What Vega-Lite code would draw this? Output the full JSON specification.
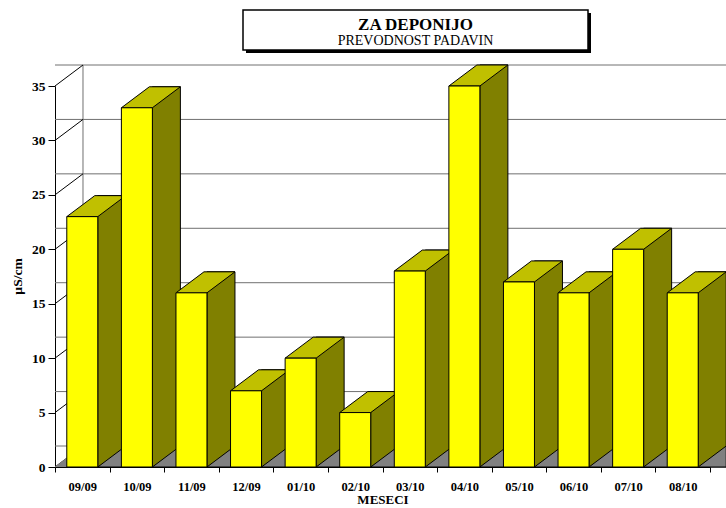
{
  "$schema": "https://vega.github.io/schema/vega-lite/v6.json",
  "autosize": {"type": "pad"},
  "padding": {"left": 10, "top": 9, "right": 0, "bottom": 0},
  "config": {"view": {"stroke": null}, "font": "Liberation Serif, Times New Roman, serif"},
  "datasets": {
    "bars": [
      {"mes": "09/09", "v": 23},
      {"mes": "10/09", "v": 33},
      {"mes": "11/09", "v": 16},
      {"mes": "12/09", "v": 7},
      {"mes": "01/10", "v": 10},
      {"mes": "02/10", "v": 5},
      {"mes": "03/10", "v": 18},
      {"mes": "04/10", "v": 35},
      {"mes": "05/10", "v": 17},
      {"mes": "06/10", "v": 16},
      {"mes": "07/10", "v": 20},
      {"mes": "08/10", "v": 16}
    ],
    "ticks": [{"t": 0}, {"t": 5}, {"t": 10}, {"t": 15}, {"t": 20}, {"t": 25}, {"t": 30}, {"t": 35}],
    "one": [{"k": 1}]
  },
  "bounds": "flush",
  "spacing": 76,
  "vconcat": [
    {
      "bounds": "flush",
      "spacing": 0,
      "hconcat": [
        {
          "width": 188, "height": 40,
          "data": {"name": "one"},
          "mark": {"type": "text", "text": ""},
          "encoding": {}
        },
        {
          "width": 345, "height": 40,
          "data": {"name": "one"},
          "layer": [
            {
              "mark": {"type": "rect", "color": "black", "xOffset": 3, "x2Offset": 3, "yOffset": 3, "y2Offset": 3},
              "encoding": {
                "x": {"datum": 0, "type": "quantitative", "scale": {"domain": [0, 1]}, "axis": null},
                "x2": {"datum": 1},
                "y": {"datum": 0, "type": "quantitative", "scale": {"domain": [0, 1]}, "axis": null},
                "y2": {"datum": 1}
              }
            },
            {
              "mark": {"type": "rect", "fill": "white", "stroke": "black", "strokeWidth": 1.5},
              "encoding": {
                "x": {"datum": 0, "type": "quantitative", "scale": {"domain": [0, 1]}, "axis": null},
                "x2": {"datum": 1},
                "y": {"datum": 0, "type": "quantitative", "scale": {"domain": [0, 1]}, "axis": null},
                "y2": {"datum": 1}
              }
            },
            {
              "mark": {"type": "text", "text": "ZA DEPONIJO", "font": "Liberation Serif, Times New Roman, serif", "fontSize": 17, "fontWeight": "bold", "baseline": "alphabetic", "align": "center", "color": "black", "dy": 0},
              "encoding": {}
            },
            {
              "mark": {"type": "text", "text": "PREVODNOST PADAVIN", "font": "Liberation Serif, Times New Roman, serif", "fontSize": 14, "baseline": "alphabetic", "align": "center", "color": "black", "dy": 15},
              "encoding": {}
            }
          ]
        }
      ]
    },
    {
      "width": 655,
      "height": 381,
      "layer": [
        {
          "data": {"name": "ticks"},
          "mark": {"type": "rule", "color": "#707070", "strokeWidth": 1, "xOffset": 28, "x2Offset": 16, "yOffset": -21},
          "encoding": {
            "y": {"field": "t", "type": "quantitative"}
          }
        },
        {
          "data": {"name": "one"},
          "mark": {"type": "rule", "color": "#707070", "strokeWidth": 1, "xOffset": 0.7, "yOffset": -21, "y2Offset": -21},
          "encoding": {
            "x": {"datum": "09/09", "type": "nominal"},
            "y": {"datum": 0, "type": "quantitative"},
            "y2": {"datum": 35}
          }
        },
        {
          "data": {"name": "ticks"},
          "mark": {"type": "rule", "color": "black", "strokeWidth": 1, "xOffset": -27.3, "x2Offset": 0.7, "y2Offset": -21},
          "encoding": {
            "x": {"datum": "09/09", "type": "nominal"},
            "x2": {"datum": "09/09"},
            "y": {"field": "t", "type": "quantitative"},
            "y2": {"field": "t"}
          }
        },
        {
          "data": {"name": "bars"},
          "mark": {"type": "point", "shape": "M-27.8,0 L27.8,0 L55.8,-21 L0.2,-21 Z", "size": 4, "filled": true, "fill": "#808080", "strokeWidth": 0, "opacity": 1, "clip": true},
          "encoding": {
            "x": {"field": "mes", "type": "nominal"},
            "y": {"datum": 0, "type": "quantitative"}
          }
        },
        {
          "data": {"name": "bars"},
          "mark": {"type": "bar", "width": 28, "xOffset": 29.5, "yOffset": -21, "y2Offset": 0, "fill": "#808000", "stroke": "black", "strokeWidth": 1},
          "encoding": {
            "x": {"field": "mes", "type": "nominal"},
            "y": {"field": "v", "type": "quantitative"},
            "y2": {"datum": 0}
          }
        },
        {
          "data": {"name": "bars"},
          "mark": {"type": "point", "shape": "M15.5,0 L43.5,-21 L43.5,0 Z", "size": 4, "filled": true, "fill": "#808080", "stroke": "black", "strokeWidth": 1, "opacity": 1},
          "encoding": {
            "x": {"field": "mes", "type": "nominal"},
            "y": {"datum": 0, "type": "quantitative"}
          }
        },
        {
          "data": {"name": "bars"},
          "mark": {"type": "point", "shape": "M-15.5,0 L15.5,0 L43.5,-21 L12.5,-21 Z", "size": 4, "filled": true, "fill": "#C0C000", "stroke": "black", "strokeWidth": 1, "opacity": 1},
          "encoding": {
            "x": {"field": "mes", "type": "nominal"},
            "y": {"field": "v", "type": "quantitative"}
          }
        },
        {
          "data": {"name": "bars"},
          "mark": {"type": "bar", "width": 31, "fill": "#FFFF00", "stroke": "black", "strokeWidth": 1},
          "encoding": {
            "x": {
              "field": "mes", "type": "nominal", "sort": null,
              "scale": {"type": "band", "paddingInner": 0, "paddingOuter": 0,
                "domain": ["09/09", "10/09", "11/09", "12/09", "01/10", "02/10", "03/10", "04/10", "05/10", "06/10", "07/10", "08/10"]},
              "axis": {
                "title": "MESECI", "labelAngle": 0, "labelAlign": "center", "labelBaseline": "top", "labelFontWeight": "bold", "labelFontSize": 12.5, "labelColor": "black",
                "tickBand": "extent", "tickSize": 5, "tickColor": "black", "domainColor": "black", "grid": false,
                "labelPadding": 8, "titleFontSize": 13, "titleFontWeight": "bold", "titleColor": "black", "titlePadding": 1
              }
            },
            "y": {
              "field": "v", "type": "quantitative",
              "scale": {"domain": [0, 35], "nice": false, "zero": true},
              "axis": {
                "values": [0, 5, 10, 15, 20, 25, 30, 35], "title": "µS/cm", "grid": false,
                "labelFontWeight": "bold", "labelFontSize": 13.5, "labelColor": "black", "labelPadding": 3,
                "tickSize": 7, "tickColor": "black", "domainColor": "black",
                "titleFontSize": 13.5, "titleFontWeight": "bold", "titleColor": "black",
                "titleX": -38, "titleY": 190, "titleAngle": -90, "titleBaseline": "middle", "titleAlign": "center"
              }
            }
          }
        }
      ]
    }
  ]
}
